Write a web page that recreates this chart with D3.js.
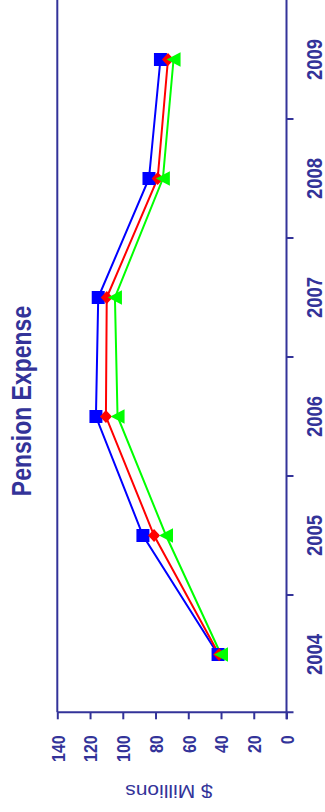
<!DOCTYPE html>
<html>
<head>
<meta charset="utf-8">
<script src="https://cdn.jsdelivr.net/npm/d3@7"></script>
<style>
  html, body { margin: 0; padding: 0; background: #fff; }
  svg { display: block; }
  text { font-family: "Liberation Sans", Arial, Helvetica, sans-serif; }
</style>
</head>
<body>
<div id="chart"></div>
<script>
// Pension expense, $ millions, three series by year
const years = ["2004", "2005", "2006", "2007", "2008", "2009"];
const series1 = [41.8, 87.7, 116.4, 115.0, 84.0, 77.0];
const series2 = [41.2, 80.9, 110.3, 109.8, 78.7, 72.4];
const series3 = [40.0, 73.6, 103.2, 104.8, 75.5, 69.0];
const valueTicks = [0, 20, 40, 60, 80, 100, 120, 140];
const titleText = "Pension Expense";
const valueLabel = "$ Millions";

const W = 325, H = 812;
const ink = "#333399";
const stretch = 1.2; // glyph stretch across the page width

const svg = d3.select("#chart").append("svg")
  .attr("width", W).attr("height", H);

// Value axis runs horizontally (0 on the right), years run bottom to top.
const x = d3.scaleLinear().domain([0, 140]).range([286.5, 57.3]);
const yBand = d3.scaleBand().domain(years).range([714, 0]);
const yMid = d => yBand(d) + yBand.bandwidth() / 2;

const axisY = 712.3;   // value axis line
const catX = 286.5;    // category axis line
const frameX = 57.3;   // far frame edge

// frame lines
svg.append("line").attr("x1", frameX).attr("x2", frameX).attr("y1", 0).attr("y2", axisY)
  .attr("stroke", ink).attr("stroke-width", 2);
svg.append("line").attr("x1", catX).attr("x2", catX).attr("y1", 0).attr("y2", axisY + 7)
  .attr("stroke", ink).attr("stroke-width", 2);

// value axis
const gx = svg.append("g").attr("transform", `translate(0,${axisY})`)
  .call(d3.axisBottom(x).tickValues(valueTicks).tickSizeInner(7).tickSizeOuter(0).tickPadding(0));
gx.select(".domain").attr("stroke", ink).attr("stroke-width", 2)
  .attr("d", `M${frameX},0H${catX + 7}`);
gx.selectAll(".tick line").attr("stroke", ink).attr("stroke-width", 2);
gx.selectAll(".tick text")
  .attr("fill", ink).attr("font-size", 16).attr("font-weight", "bold")
  .attr("y", null).attr("dy", null)
  .attr("text-anchor", "end")
  .attr("transform", `translate(6.9,23) rotate(-90) scale(1,${stretch})`);

// category axis: labels centred in bands, ticks on band boundaries
const gy = svg.append("g").attr("transform", `translate(${catX},0)`)
  .call(d3.axisRight(yBand).tickSize(0).tickPadding(0));
gy.select(".domain").remove();
gy.selectAll(".tick text")
  .attr("fill", ink).attr("font-size", 18.5).attr("font-weight", "bold")
  .attr("x", null).attr("dy", null)
  .attr("text-anchor", "middle")
  .attr("transform", `translate(35.5,0) rotate(-90) scale(1,${stretch})`);
const bounds = d3.pairs(years).map(([a, b]) => (yMid(a) + yMid(b)) / 2);
gy.selectAll(".bound").data(bounds).join("line")
  .attr("class", "bound")
  .attr("x1", 0).attr("x2", 7)
  .attr("y1", d => d).attr("y2", d => d)
  .attr("stroke", ink).attr("stroke-width", 2);

// value axis title (upside down)
svg.append("text")
  .attr("transform", `translate(169,785) rotate(180) scale(${stretch},1)`)
  .attr("text-anchor", "middle")
  .attr("fill", ink).attr("font-size", 17.5)
  .text(valueLabel);

// chart title
svg.append("text")
  .attr("transform", `translate(31,401) rotate(-90) scale(1,${stretch})`)
  .attr("text-anchor", "middle")
  .attr("fill", ink).attr("font-size", 23).attr("font-weight", "bold")
  .text(titleText);

// series lines and markers
const allSeries = [
  { values: series1, color: "#0000ff", shape: "square" },
  { values: series2, color: "#ff0000", shape: "diamond" },
  { values: series3, color: "#00ff00", shape: "triangle" }
];
const line = d3.line().x(d => x(d.v)).y(d => yMid(d.year));

allSeries.forEach(s => {
  const pts = years.map((year, i) => ({ year, v: s.values[i] }));
  svg.append("path").datum(pts)
    .attr("d", line).attr("fill", "none")
    .attr("stroke", s.color).attr("stroke-width", 2);
});

allSeries.forEach(s => {
  const pts = years.map((year, i) => ({ year, v: s.values[i] }));
  const g = svg.append("g");
  const m = g.selectAll("path").data(pts).join("path")
    .attr("fill", s.color)
    .attr("transform", d => `translate(${x(d.v)},${yMid(d.year)})`);
  if (s.shape === "square") m.attr("d", "M-6.5,-6.5H6.5V6.5H-6.5Z");
  if (s.shape === "diamond") m.attr("d", "M-6,0L0,-6.5L6,0L0,6.5Z");
  if (s.shape === "triangle") m.attr("d", "M-7,0L7,-7.2L7,7.2Z");
});
</script>
</body>
</html>
